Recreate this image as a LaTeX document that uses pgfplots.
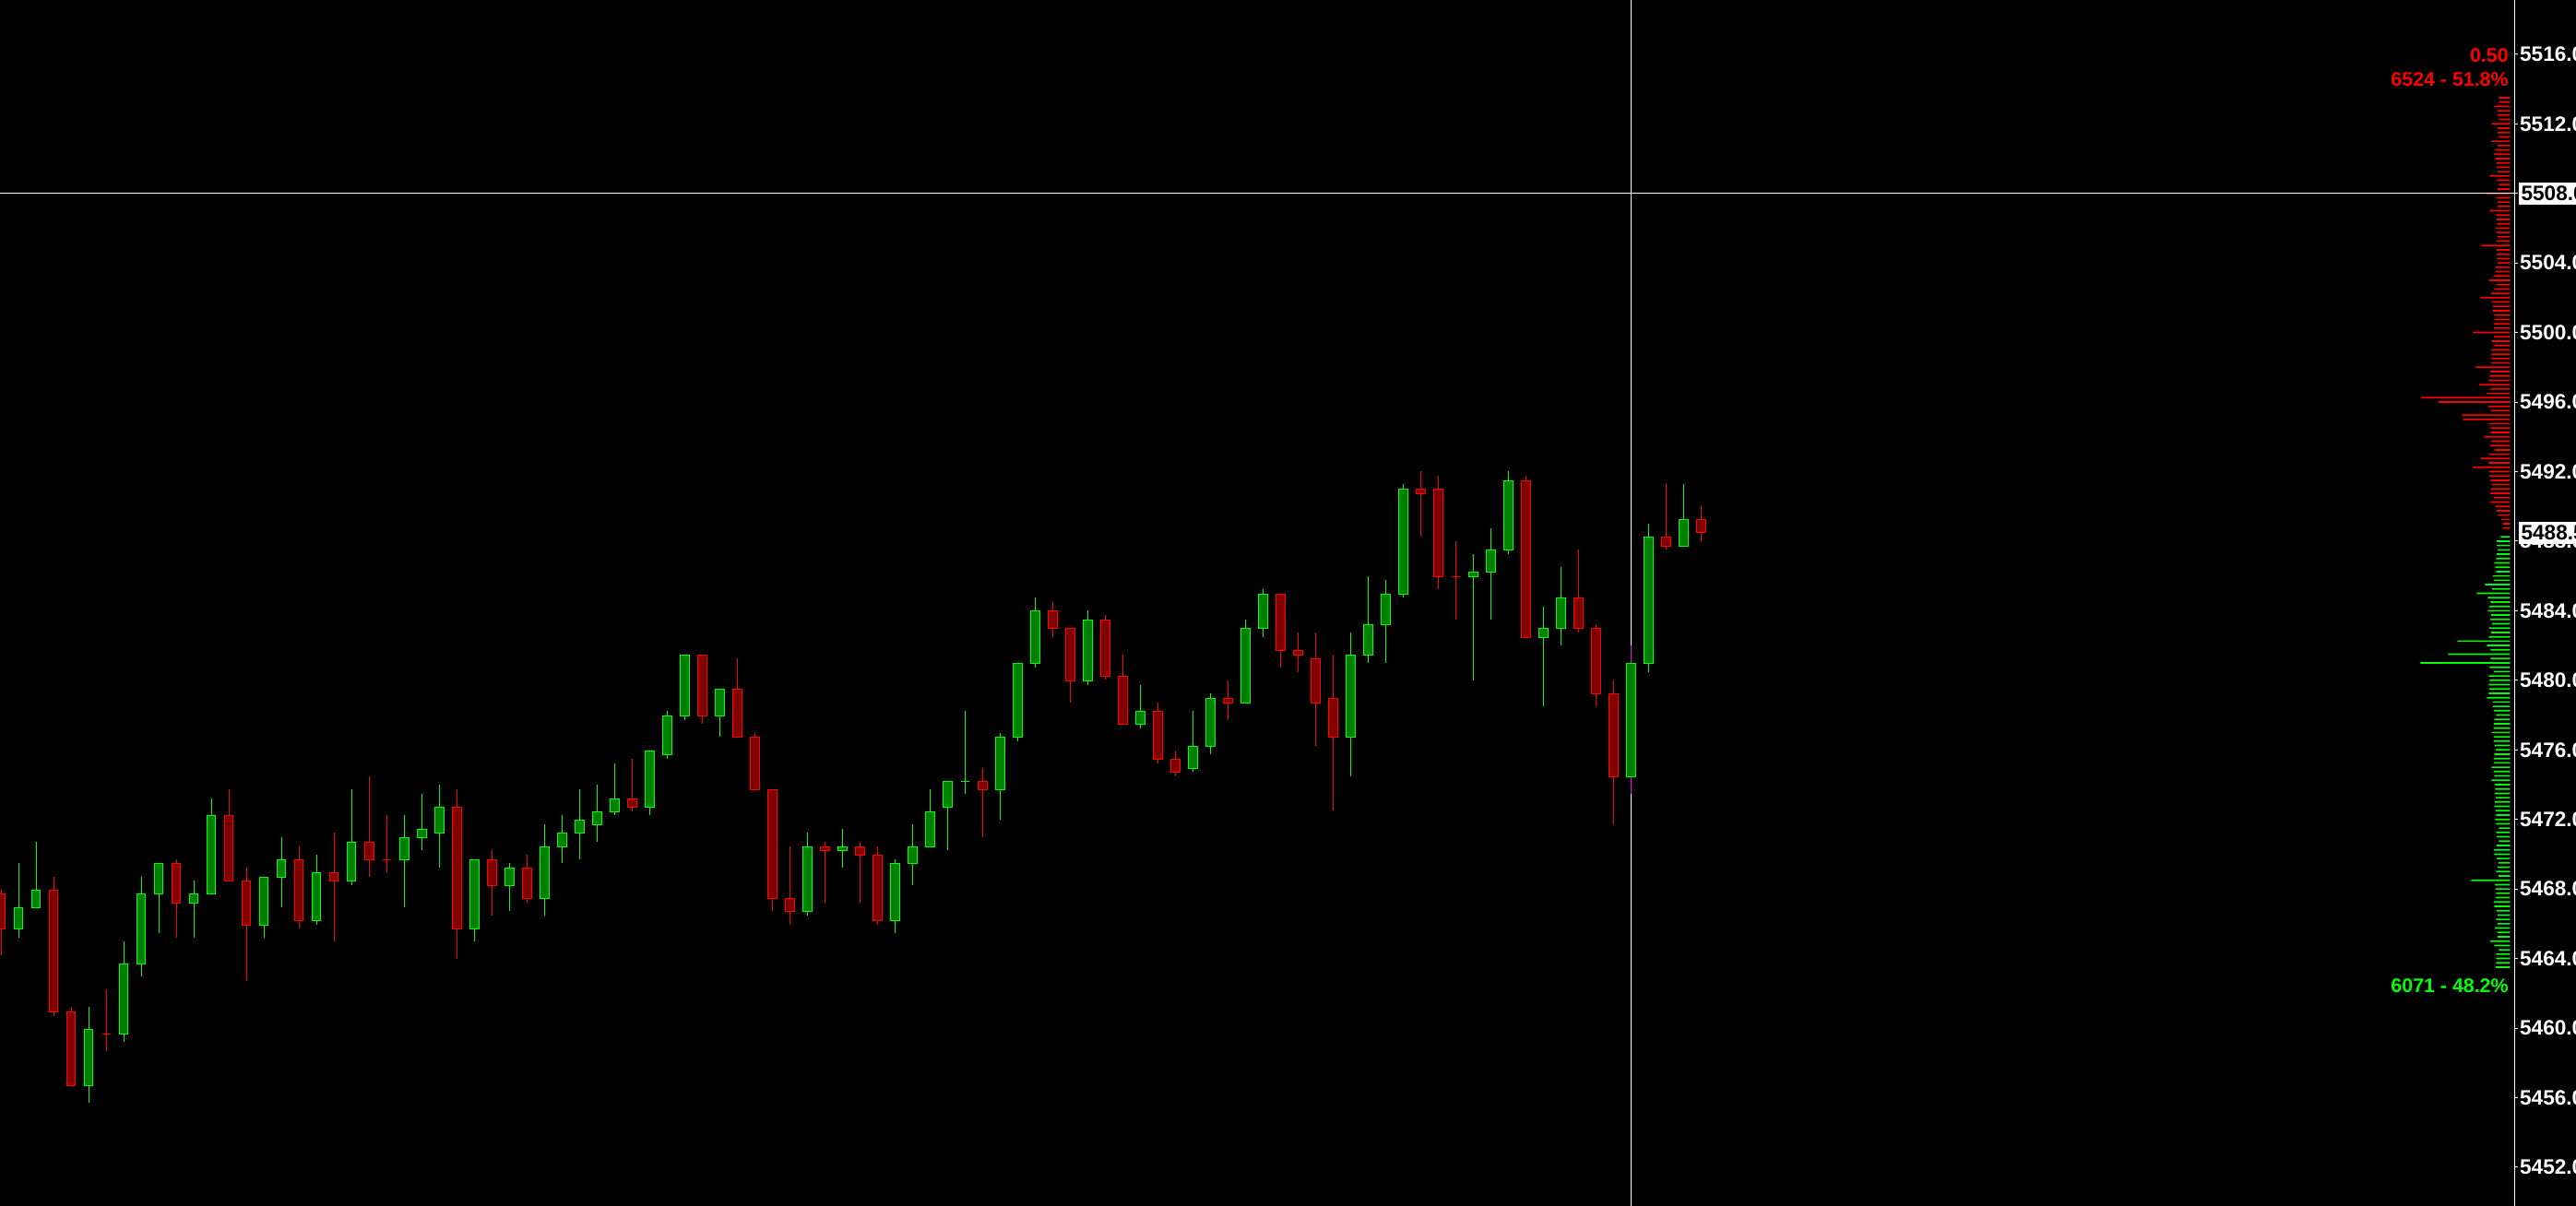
\documentclass[border=0pt]{standalone}
\usepackage{fontspec}
\setmainfont{Liberation Sans}
\usepackage{pgfplots}
\usepackage{pgfplotstable}
\pgfplotsset{compat=1.18}
\definecolor{upline}{RGB}{0,255,0}
\definecolor{upfill}{RGB}{0,128,0}
\definecolor{dnline}{RGB}{255,0,0}
\definecolor{dnfill}{RGB}{128,0,0}
\definecolor{wickmag}{RGB}{255,0,255}

\pgfplotstableread{
i O H L C U
0 5467.73 5467.94 5464.21 5465.71 0
1 5465.71 5469.47 5465.21 5466.93 1
2 5466.93 5470.69 5466.93 5467.94 1
3 5467.94 5468.68 5460.71 5460.94 0
4 5460.94 5461.20 5456.69 5456.69 0
5 5456.69 5461.20 5455.72 5459.93 1
6 5459.66 5462.21 5458.69 5459.66 0
7 5459.66 5464.97 5459.22 5463.69 1
8 5463.69 5468.68 5462.99 5467.73 1
9 5467.73 5469.47 5465.48 5469.47 1
10 5469.47 5469.68 5465.21 5467.19 0
11 5467.19 5468.47 5465.21 5467.73 1
12 5467.73 5473.20 5467.73 5472.23 1
13 5472.23 5473.73 5468.47 5468.47 0
14 5468.47 5469.21 5462.72 5465.92 0
15 5465.92 5468.68 5465.21 5468.68 1
16 5468.68 5470.96 5466.96 5469.68 1
17 5469.68 5470.43 5465.74 5466.19 0
18 5466.19 5469.95 5465.96 5468.94 1
19 5468.94 5471.23 5465.00 5468.47 0
20 5468.47 5473.72 5468.24 5470.70 1
21 5470.70 5474.46 5468.72 5469.69 0
22 5469.69 5472.23 5468.98 5469.69 0
23 5469.69 5472.23 5466.97 5470.96 1
24 5470.96 5473.45 5470.25 5471.44 1
25 5471.23 5473.98 5469.25 5472.71 1
26 5472.71 5473.72 5464.00 5465.71 0
27 5465.71 5469.69 5465.00 5469.69 1
28 5469.69 5470.24 5466.49 5468.20 0
29 5468.20 5469.49 5466.75 5469.21 1
30 5469.21 5469.97 5467.21 5467.46 0
31 5467.46 5471.72 5466.49 5470.43 1
32 5470.43 5472.25 5469.51 5471.23 1
33 5471.23 5473.74 5469.72 5471.97 1
34 5471.70 5474.00 5470.73 5472.45 1
35 5472.45 5475.22 5472.27 5473.19 1
36 5473.19 5475.49 5472.46 5472.71 0
37 5472.69 5475.95 5472.27 5475.95 1
38 5475.73 5478.24 5475.50 5477.96 1
39 5477.96 5481.46 5477.73 5481.46 1
40 5481.46 5481.46 5477.52 5477.96 0
41 5477.96 5479.50 5476.78 5479.50 1
42 5479.50 5481.27 5476.74 5476.74 0
43 5476.74 5476.95 5473.72 5473.72 0
44 5473.72 5473.72 5466.76 5467.46 0
45 5467.46 5470.45 5465.96 5466.72 0
46 5466.72 5471.23 5466.49 5470.43 1
47 5470.43 5470.70 5467.23 5470.22 0
48 5470.22 5471.46 5469.25 5470.43 1
49 5470.43 5470.70 5467.23 5469.95 0
50 5469.95 5470.45 5465.96 5466.19 0
51 5466.19 5469.69 5465.48 5469.48 1
52 5469.48 5471.70 5468.24 5470.43 1
53 5470.43 5473.72 5470.43 5472.45 1
54 5472.69 5474.20 5470.25 5474.20 1
55 5474.20 5478.23 5473.49 5474.20 1
56 5474.20 5474.94 5471.00 5473.72 0
57 5473.72 5476.95 5472.00 5476.74 1
58 5476.74 5480.98 5476.51 5480.98 1
59 5480.98 5484.75 5480.75 5484.01 1
60 5484.01 5484.50 5482.50 5483.00 0
61 5483.00 5483.00 5478.74 5479.98 0
62 5479.98 5484.01 5479.75 5483.47 1
63 5483.47 5483.74 5480.03 5480.24 0
64 5480.24 5481.46 5477.48 5477.48 0
65 5477.48 5479.71 5477.25 5478.23 1
66 5478.23 5478.70 5475.24 5475.47 0
67 5475.47 5475.95 5474.50 5474.73 0
68 5474.94 5478.23 5474.76 5476.21 1
69 5476.21 5479.23 5475.77 5478.97 1
70 5478.97 5479.99 5477.71 5478.70 0
71 5478.70 5483.49 5478.70 5483.00 1
72 5483.00 5485.24 5482.50 5484.96 1
73 5484.96 5484.96 5480.75 5481.73 0
74 5481.73 5482.75 5480.49 5481.46 0
75 5481.25 5482.75 5476.25 5478.70 0
76 5478.97 5481.48 5472.50 5476.74 0
77 5476.74 5482.75 5474.50 5481.46 1
78 5481.46 5485.98 5481.02 5483.21 1
79 5483.21 5485.77 5481.02 5484.96 1
80 5484.96 5491.29 5484.78 5491.00 1
81 5491.00 5492.03 5488.28 5490.74 0
82 5491.00 5491.76 5485.26 5485.97 0
83 5485.97 5488.00 5483.51 5485.97 0
84 5485.97 5487.26 5480.01 5486.23 1
85 5486.23 5488.74 5483.51 5487.50 1
86 5487.50 5492.03 5487.27 5491.48 1
87 5491.48 5491.76 5482.47 5482.47 0
88 5482.47 5484.23 5478.53 5483.00 1
89 5483.00 5486.51 5482.03 5484.75 1
90 5484.75 5487.52 5482.77 5483.00 0
91 5483.00 5483.21 5478.53 5479.23 0
92 5479.23 5479.99 5471.72 5474.46 0
93 5474.46 5482.01 5473.49 5480.98 1
94 5480.98 5489.01 5480.49 5488.25 1
95 5488.25 5491.29 5487.54 5487.72 0
96 5487.72 5491.29 5487.72 5489.25 1
97 5489.25 5490.01 5488.02 5488.51 0
}\candles

\pgfplotstableread{
p v
5513.50 36
5513.25 36
5513.00 53
5512.75 40
5512.50 41
5512.25 36
5512.00 60
5511.75 41
5511.50 41
5511.25 36
5511.00 60
5510.75 41
5510.50 48
5510.25 53
5510.00 48
5509.75 43
5509.50 43
5509.25 41
5509.00 66
5508.75 43
5508.50 36
5508.25 41
5508.00 78
5507.75 45
5507.50 41
5507.25 41
5507.00 66
5506.75 45
5506.50 43
5506.25 41
5506.00 48
5505.75 43
5505.50 41
5505.25 43
5505.00 93
5504.75 43
5504.50 43
5504.25 43
5504.00 41
5503.75 47
5503.50 47
5503.25 51
5503.00 68
5502.75 43
5502.50 51
5502.25 61
5502.00 96
5501.75 59
5501.50 55
5501.25 56
5501.00 51
5500.75 49
5500.50 53
5500.25 53
5500.00 120
5499.75 52
5499.50 59
5499.25 51
5499.00 61
5498.75 61
5498.50 60
5498.25 60
5498.00 111
5497.75 63
5497.50 66
5497.25 69
5497.00 101
5496.75 63
5496.50 75
5496.25 288
5496.00 233
5495.75 71
5495.50 62
5495.25 156
5495.00 153
5494.75 69
5494.50 63
5494.25 62
5494.00 83
5493.75 60
5493.50 64
5493.25 50
5493.00 67
5492.75 95
5492.50 69
5492.25 120
5492.00 67
5491.75 67
5491.50 63
5491.25 59
5491.00 61
5490.75 65
5490.50 53
5490.25 65
5490.00 47
5489.75 43
5489.50 37
5489.25 28
5489.00 23
5488.75 23
}\sellvol

\pgfplotstableread{
p v
5488.25 30
5488.00 43
5487.75 43
5487.50 41
5487.25 43
5487.00 45
5486.75 51
5486.50 48
5486.25 45
5486.00 55
5485.75 53
5485.50 81
5485.25 58
5485.00 108
5484.75 72
5484.50 63
5484.25 68
5484.00 72
5483.75 61
5483.50 65
5483.25 58
5483.00 68
5482.75 61
5482.50 69
5482.25 171
5482.00 75
5481.75 63
5481.50 201
5481.25 63
5481.00 291
5480.75 66
5480.50 53
5480.25 69
5480.00 66
5479.75 69
5479.50 67
5479.25 69
5479.00 75
5478.75 56
5478.50 56
5478.25 53
5478.00 45
5477.75 51
5477.50 53
5477.25 53
5477.00 59
5476.75 53
5476.50 53
5476.25 50
5476.00 47
5475.75 51
5475.50 53
5475.25 53
5475.00 60
5474.75 53
5474.50 51
5474.25 60
5474.00 49
5473.75 48
5473.50 50
5473.25 47
5473.00 49
5472.75 51
5472.50 47
5472.25 45
5472.00 48
5471.75 45
5471.50 36
5471.25 45
5471.00 43
5470.75 36
5470.50 43
5470.25 53
5470.00 51
5469.75 43
5469.50 37
5469.25 41
5469.00 45
5468.75 38
5468.50 126
5468.25 49
5468.00 47
5467.75 45
5467.50 47
5467.25 53
5467.00 51
5466.75 43
5466.50 41
5466.25 45
5466.00 41
5465.75 49
5465.50 41
5465.25 41
5465.00 65
5464.75 51
5464.50 36
5464.25 45
5464.00 45
5463.75 45
5463.50 47
}\buyvol

\pgfplotsset{
  bodyup/.style={draw=upline, fill=upfill, line width=0.56pt},
  bodydn/.style={draw=dnline, fill=dnfill, line width=0.56pt},
  wickup/.style={draw=upline, line width=0.56pt},
  wickdn/.style={draw=dnline, line width=0.56pt},
  wickmg/.style={draw=wickmag, line width=0.56pt},
}

\newcommand{\lblfont}{\bfseries\fontsize{12.7}{13}\selectfont}

\begin{document}
\begin{tikzpicture}
\useasboundingbox (0,0) rectangle (1568pt,734.3pt);
\fill[black] (0,0) rectangle (1568pt,734.3pt);
\clip (0,0) rectangle (1568pt,734.3pt);

% volume profile
\begin{axis}[at={(0pt,0pt)}, anchor=south west, scale only axis,
  width=1527.8pt, height=734.3pt, hide axis,
  x dir=reverse, xmin=0, xmax=8163, ymin=5449.77, ymax=5519.12]
\addplot[xbar, bar width=0.95pt, bar shift=0pt, fill=dnline, draw=none] table[x=v, y=p] {\sellvol};
\addplot[xbar, bar width=0.95pt, bar shift=0pt, fill=upline, draw=none] table[x=v, y=p] {\buyvol};
\end{axis}

% candles
\begin{axis}[at={(0pt,0pt)}, anchor=south west, scale only axis,
  width=1530.6pt, height=734.3pt,
  xmin=-0.068, xmax=143.41, ymin=5449.77, ymax=5519.12,
  axis x line=none, axis y line*=right,
  axis line style={white, line width=0.56pt},
  xtick=\empty,
  ytick={5452,5456,5460,5464,5468,5472,5476,5480,5484,5488,5492,5496,5500,5504,5508,5512,5516},
  yticklabels={5452.0,5456.0,5460.0,5464.0,5468.0,5472.0,5476.0,5480.0,5484.0,5488.0,5492.0,5496.0,5500.0,5504.0,5508.0,5512.0,5516.0},
  tick style={white, line width=0.56pt}, major tick length=2pt, tick align=outside,
  yticklabel style={text=white, font=\lblfont, anchor=west, inner sep=0pt, xshift=1pt}]
\addplot[white, line width=0.56pt] coordinates {(-2,5508) (150,5508)};
\addplot[white, line width=0.56pt] coordinates {(93,5440) (93,5530)};
\pgfplotsinvokeforeach{0,...,97}{%
  \pgfplotstablegetelem{#1}{O}\of\candles\let\cO\pgfplotsretval
  \pgfplotstablegetelem{#1}{H}\of\candles\let\cH\pgfplotsretval
  \pgfplotstablegetelem{#1}{L}\of\candles\let\cL\pgfplotsretval
  \pgfplotstablegetelem{#1}{C}\of\candles\let\cC\pgfplotsretval
  \pgfplotstablegetelem{#1}{U}\of\candles\let\cU\pgfplotsretval
  \ifnum\cU=1 \let\cLo\cO\let\cHi\cC\def\cSty{bodyup}\def\cWk{wickup}\else\let\cLo\cC\let\cHi\cO\def\cSty{bodydn}\def\cWk{wickdn}\fi
  \ifnum#1=93 \def\cWk{wickmg}\fi
  \pgfmathsetmacro\xa{#1-0.245}%
  \pgfmathsetmacro\xb{#1+0.245}%
  \edef\temp{\noexpand\addplot[\cWk] coordinates {(#1,\cL) (#1,\cH)};%
    \noexpand\addplot[\cSty] coordinates {(\xa,\cLo) (\xb,\cLo) (\xb,\cHi) (\xa,\cHi)} --cycle;}%
  \temp
}
\end{axis}

% annotations
\node[anchor=base east, inner sep=0pt, text=dnline, font=\bfseries\fontsize{12}{12}\selectfont] at (1527pt,696.5pt) {0.50};
\node[anchor=base east, inner sep=0pt, text=dnline, font=\bfseries\fontsize{12}{12}\selectfont] at (1527pt,681.8pt) {6524 - 51.8\%};
\node[anchor=base east, inner sep=0pt, text=upline, font=\bfseries\fontsize{12}{12}\selectfont] at (1527pt,129.7pt) {6071 - 48.2\%};

\fill[white] (1533.4pt,609.8pt) rectangle (1575pt,623.2pt);
\node[anchor=west, inner sep=0pt, text=black, font=\lblfont] at (1534.4pt,616.5pt) {5508.0};
\fill[white] (1533.4pt,403.3pt) rectangle (1575pt,416.7pt);
\node[anchor=west, inner sep=0pt, text=black, font=\lblfont] at (1534.4pt,410.0pt) {5488.5};
\end{tikzpicture}
\end{document}
